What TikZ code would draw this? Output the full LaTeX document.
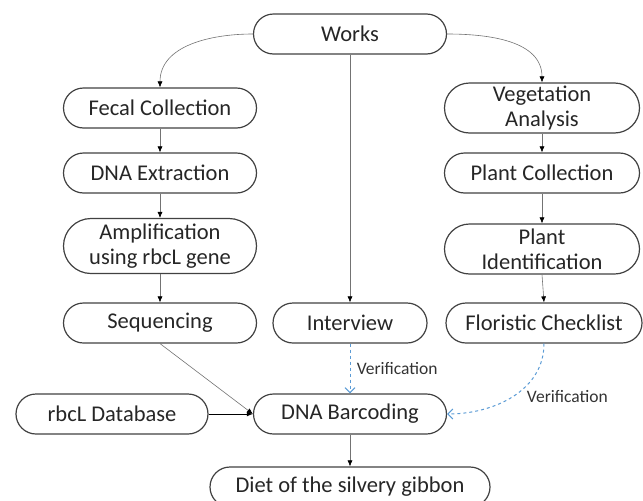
\documentclass[tikz,border=0pt]{standalone}
\usepackage{fontspec}
\setmainfont{Carlito}
\usetikzlibrary{positioning, arrows.meta}
\definecolor{rimgray}{RGB}{65,65,65}
\definecolor{verblue}{RGB}{91,155,213}

\begin{document}
\begin{tikzpicture}[x=1pt, y=-1pt,
    stage/.style={draw=rimgray, line width=1.2pt, rounded corners=20pt, minimum width=193pt, minimum height=40pt,
      align=center, inner sep=2pt, text=black!85, font=\fontsize{22.5}{25}\selectfont},
    tall/.style={minimum height=#1, rounded corners=#1/2},
    flow/.style={draw=black!55, line width=0.6pt, -{Latex[length=6pt,width=5pt,color=black]}},
    verify/.style={draw=verblue, line width=1pt, dashed, -{Straight Barb[length=5pt,width=10pt]}},
    note/.style={text=black!80, font=\fontsize{17.5}{20}\selectfont}]
    \useasboundingbox (0,0) rectangle (643,501);

    % Top
    \node[stage] (works) at (350,34) {Works};

    % Left column
    \node[stage] (fecal) at (160,108) {Fecal Collection};
    \node[stage] (dnaext) at (160,173) {DNA Extraction};
    \node[stage, tall=55pt] (amplif) at (160,246) {Amplification\\using rbcL gene};
    \node[stage] (seqn) at (160,323) {Sequencing};

    % Right column
    \node[stage, minimum width=195pt, tall=50pt] (veget) at (542,108) {Vegetation\\Analysis};
    \node[stage, minimum width=195pt] (plcoll) at (542,173) {Plant Collection};
    \node[stage, minimum width=195pt, tall=50pt] (plident) at (542,249) {Plant\\Identification};
    \node[stage, minimum width=196pt] (florist) at (544,323) {Floristic Checklist};

    % Middle and bottom
    \node[stage, minimum width=154pt] (interv) at (350,323) {Interview};
    \node[stage] (barcode) at (350,414) {DNA Barcoding};
    \node[stage, minimum width=192pt] (rbcldb) at (112,414) {rbcL Database};
    \node[stage, minimum width=280pt] (diet) at (350,487) {Diet of the silvery gibbon};

    % Straight steps
    \foreach \a/\b in {fecal/dnaext, dnaext/amplif, amplif/seqn, veget/plcoll, plcoll/plident, plident/florist, works/interv, barcode/diet} {
      \draw[flow] (\a.south) -- (\b.north);
    }

    % Branches from the top
    \draw[flow] (works.west) to[out=180, in=90] (fecal.north);
    \draw[flow] (works.east) to[out=0, in=90] (veget.north);

    % Into the barcoding
    \draw[flow] (seqn.south) -- (barcode.west);
    \draw[flow, draw=black, line width=1pt] (rbcldb.east) -- (barcode.west);
    \draw[verify] (interv.south) -- node[note, right=3pt] {Verification} (barcode.north);
    \draw[verify] (florist.south) to[out=-90, in=0] node[note, right=10pt] {Verification} (barcode.east);
\end{tikzpicture}
\end{document}
